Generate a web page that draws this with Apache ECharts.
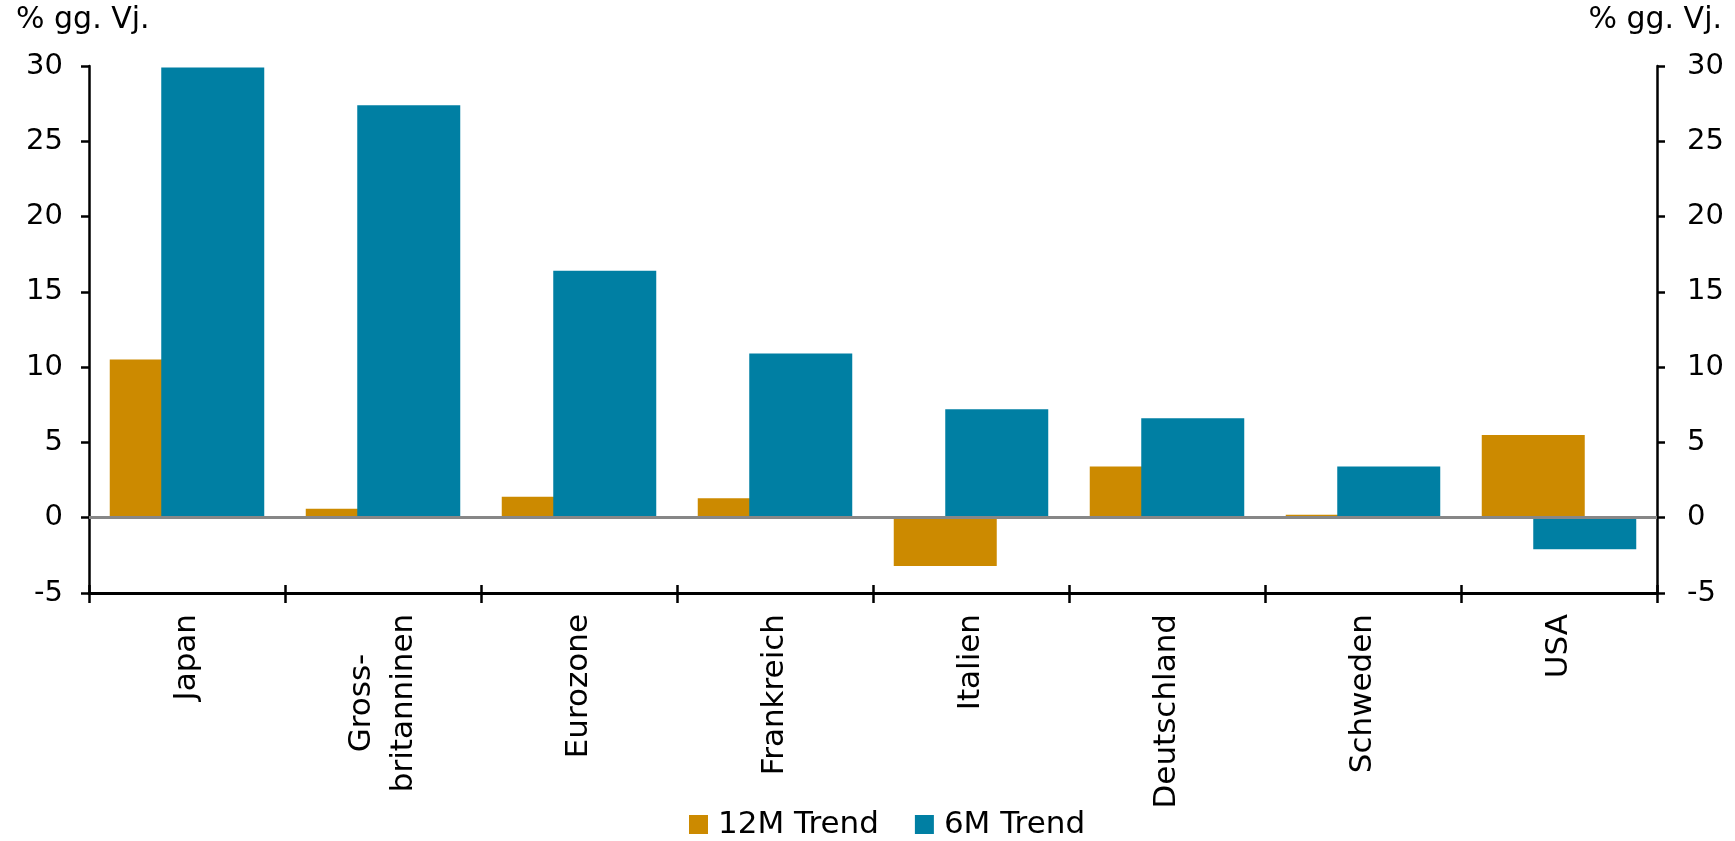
<!DOCTYPE html>
<html>
<head>
<meta charset="utf-8">
<script src="https://cdn.jsdelivr.net/npm/echarts@6/dist/echarts.min.js"></script>
<style>
  html, body { margin: 0; padding: 0; background: #fff; }
  #chart { width: 1735px; height: 841px; }
</style>
</head>
<body>
<div id="chart"></div>
<script>
// Länder und Werte (% gg. Vj.)
const categories = ['Japan', 'Gross-\nbritanninen', 'Eurozone', 'Frankreich', 'Italien', 'Deutschland', 'Schweden', 'USA'];
const trend12M = [10.5, 0.6, 1.4, 1.3, -3.2, 3.4, 0.2, 5.5];
const trend6M = [29.9, 27.4, 16.4, 10.9, 7.2, 6.6, 3.4, -2.1];
const yMin = -5, yMax = 30, yStep = 5;

const FONT = 'DejaVu Sans';
const ORANGE = '#CC8A00';
const BLUE = '#007FA3';

var chart = echarts.init(document.getElementById('chart'));

// zweizeilige Beschriftung zentriert
function fmtLabel (v) {
  if (v.indexOf('\n') < 0) return v;
  return v.split('\n').map(s => '{c|' + s + '}').join('\n');
}

const yAxisBase = {
  type: 'value',
  min: yMin,
  max: yMax,
  interval: yStep,
  splitLine: { show: false },
  axisLine: { show: true, lineStyle: { color: '#000', width: 2.5 } },
  axisTick: { show: true, length: 8, lineStyle: { color: '#000', width: 2.5 } }
};

chart.setOption({
  animation: false,
  backgroundColor: '#fff',
  textStyle: { fontFamily: FONT },
  title: [
    { text: '% gg. Vj.', left: 16, top: 5, padding: 0,
      textStyle: { fontFamily: FONT, fontSize: 30, fontWeight: 'normal', color: '#000' } },
    { text: '% gg. Vj.', right: 13, top: 5, padding: 0,
      textStyle: { fontFamily: FONT, fontSize: 30, fontWeight: 'normal', color: '#000' } }
  ],
  legend: {
    left: 684,
    top: 804,
    itemWidth: 19,
    itemHeight: 19,
    itemGap: 36,
    icon: 'rect',
    textStyle: { fontFamily: FONT, fontSize: 31, color: '#000', padding: [0, 0, 0, 5] },
    data: ['12M Trend', '6M Trend']
  },
  grid: { left: 89, right: 78, top: 66, bottom: 248, containLabel: false },
  xAxis: [
    {
      type: 'category',
      data: categories,
      position: 'bottom',
      axisLine: { show: true, onZero: false, lineStyle: { color: '#000', width: 3 } },
      axisTick: { show: true, length: 10, lineStyle: { color: '#000', width: 2.5 } },
      axisLabel: {
        rotate: 90,
        margin: 21,
        interval: 0,
        color: '#000',
        fontFamily: FONT,
        fontSize: 31,
        formatter: fmtLabel,
        rich: {
          c: { fontFamily: FONT, fontSize: 31, color: '#000', width: 178, align: 'center', lineHeight: 42 }
        }
      }
    },
    {
      // Innenseite der Kreuz-Teilstriche
      type: 'category',
      data: categories,
      position: 'bottom',
      axisLine: { show: false, onZero: false },
      axisTick: { show: true, inside: true, length: 8, lineStyle: { color: '#000', width: 2.5 } },
      axisLabel: { show: false }
    }
  ],
  yAxis: [
    Object.assign({}, yAxisBase, {
      position: 'left',
      axisLabel: { margin: 26, color: '#000', fontFamily: FONT, fontSize: 29 }
    }),
    Object.assign({}, yAxisBase, {
      position: 'right',
      axisLabel: { margin: 30, color: '#000', fontFamily: FONT, fontSize: 29 }
    })
  ],
  series: [
    {
      name: '12M Trend',
      type: 'bar',
      data: trend12M,
      barWidth: 103,
      barGap: '-50%',
      itemStyle: { color: ORANGE }
    },
    {
      name: '6M Trend',
      type: 'bar',
      data: trend6M,
      barWidth: 103,
      barGap: '-50%',
      itemStyle: { color: BLUE },
      markLine: {
        silent: true,
        symbol: 'none',
        label: { show: false },
        lineStyle: { color: '#878787', width: 3, type: 'solid' },
        data: [{ yAxis: 0 }]
      }
    }
  ]
});
</script>
</body>
</html>
